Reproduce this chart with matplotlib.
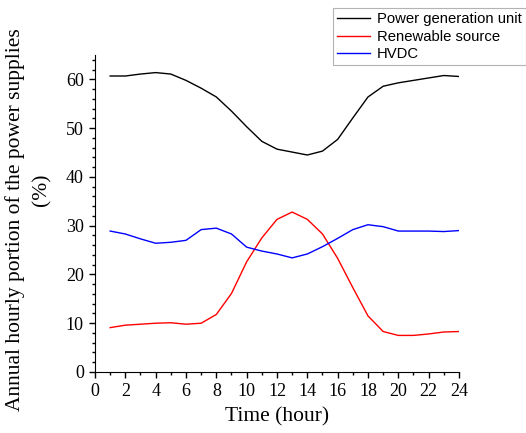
import matplotlib
matplotlib.use('Agg')
import matplotlib.pyplot as plt
from matplotlib.ticker import MultipleLocator

hours = list(range(1, 25))
power_gen = [60.7, 60.7, 61.1, 61.4, 61.1, 59.8, 58.2, 56.4, 53.5, 50.3, 47.3, 45.7,
             45.1, 44.5, 45.3, 47.7, 52.1, 56.4, 58.6, 59.3, 59.8, 60.3, 60.8, 60.6]
renewable = [9.1, 9.6, 9.8, 10.0, 10.1, 9.8, 10.0, 11.8, 16.1, 22.6, 27.5, 31.3,
             32.8, 31.3, 28.3, 23.3, 17.3, 11.5, 8.3, 7.5, 7.5, 7.8, 8.2, 8.3]
hvdc = [28.9, 28.3, 27.3, 26.4, 26.6, 27.0, 29.2, 29.5, 28.3, 25.6, 24.8, 24.2,
        23.4, 24.2, 25.7, 27.4, 29.2, 30.2, 29.8, 28.9, 28.9, 28.9, 28.8, 29.0]

fig = plt.figure(figsize=(5.26, 4.33), dpi=100)
ax = fig.add_axes([0.1806, 0.1409, 0.692, 0.732])

ax.plot(hours, power_gen, color='black', lw=1.0, label='Power generation unit')
ax.plot(hours, renewable, color='red', lw=1.0, label='Renewable source')
ax.plot(hours, hvdc, color='blue', lw=1.0, label='HVDC')

ax.set_xlim(0, 24)
ax.set_ylim(0, 65)
ax.xaxis.set_major_locator(MultipleLocator(2))
ax.xaxis.set_minor_locator(MultipleLocator(1))
ax.yaxis.set_major_locator(MultipleLocator(10))
ax.yaxis.set_minor_locator(MultipleLocator(2))
ax.spines['top'].set_visible(False)
ax.spines['right'].set_visible(False)
ax.tick_params(which='major', direction='out', length=4, width=1, pad=4)
ax.tick_params(which='minor', direction='out', length=2.5, width=1)

for lab in ax.get_xticklabels() + ax.get_yticklabels():
    lab.set_fontfamily('Liberation Serif')
    lab.set_fontsize(13)

ax.set_xlabel('Time (hour)', fontfamily='Liberation Serif', fontsize=15.5, labelpad=5)

# y label: two lines, placed by hand like the original
fig.text(15 / 526, 1 - 220 / 433, 'Annual hourly portion of the power supplies',
         rotation=90, ha='center', va='center',
         fontfamily='Liberation Serif', fontsize=15.5)
fig.text(42 / 526, 1 - 190 / 433, '(%)', rotation=90, ha='center', va='center',
         fontfamily='Liberation Serif', fontsize=15.5)

leg = fig.legend(loc='upper left', bbox_to_anchor=(333 / 526, 1 - 8 / 433),
                 prop={'family': 'Liberation Sans', 'size': 10.7},
                 frameon=True, fancybox=False, handlelength=2.2,
                 borderaxespad=0, borderpad=0.3, labelspacing=0.22,
                 handletextpad=0.45)
leg.get_frame().set_edgecolor('#a0a0a0')
leg.get_frame().set_linewidth(0.8)

fig.savefig('out.png', dpi=100)
